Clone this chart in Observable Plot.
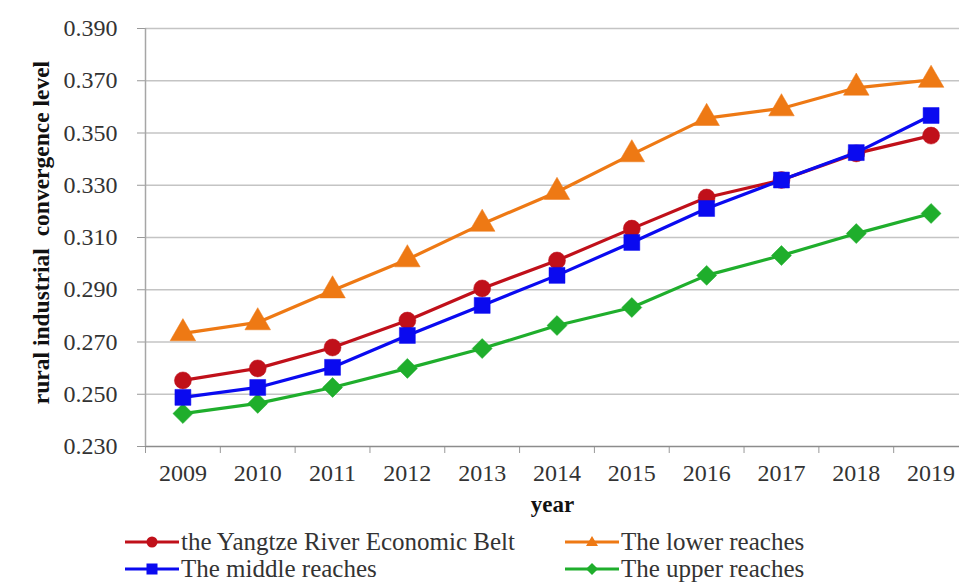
<!DOCTYPE html>
<html>
<head>
<meta charset="utf-8">
<script src="https://cdn.jsdelivr.net/npm/d3@7"></script>
<script src="https://cdn.jsdelivr.net/npm/@observablehq/plot@0.6"></script>
<style>
  body { margin: 0; background: #fff; }
  #wrap { position: relative; width: 959px; height: 587px; font-family: "Liberation Serif", "Times New Roman", serif; }
  #legend { position: absolute; left: 0; top: 525px; width: 959px; height: 62px; }
  .item { position: absolute; display: flex; align-items: center; font-size: 25px; color: #333; height: 28px; white-space: nowrap; }
  .item svg { margin-right: 2px; }
</style>
</head>
<body>
<div id="wrap"><div id="chart"></div><div id="legend"></div></div>
<script>
const years = [2009, 2010, 2011, 2012, 2013, 2014, 2015, 2016, 2017, 2018, 2019];
const belt   = [0.2553, 0.2599, 0.2679, 0.2782, 0.2905, 0.3012, 0.3134, 0.3253, 0.3320, 0.3422, 0.3490];
const lower  = [0.2733, 0.2775, 0.2897, 0.3016, 0.3152, 0.3274, 0.3418, 0.3557, 0.3594, 0.3673, 0.3703];
const middle = [0.2488, 0.2526, 0.2603, 0.2725, 0.2840, 0.2955, 0.3081, 0.3211, 0.3320, 0.3425, 0.3567];
const upper  = [0.2426, 0.2465, 0.2526, 0.2599, 0.2675, 0.2763, 0.2832, 0.2955, 0.3031, 0.3115, 0.3192];
const yTicks = [0.230, 0.250, 0.270, 0.290, 0.310, 0.330, 0.350, 0.370, 0.390];
const xBounds = [2008.5, 2009.5, 2010.5, 2011.5, 2012.5, 2013.5, 2014.5, 2015.5, 2016.5, 2017.5, 2018.5, 2019.5];

const seriesDefs = [
  {name: "the Yangtze River Economic Belt", values: belt, color: "#c0101a", symbol: "circle", r: 8.5},
  {name: "The lower reaches", values: lower, color: "#ee7914", symbol: "triangle", r: 9.5},
  {name: "The middle reaches", values: middle, color: "#0a0af0", symbol: "square", r: 9},
  {name: "The upper reaches", values: upper, color: "#1fae2c", symbol: "diamond2", r: 9}
];
const drawOrder = [1, 3, 0, 2];
const rows = [];
for (const s of seriesDefs) years.forEach((yr, i) => rows.push({series: s.name, year: yr, value: s.values[i]}));

const marks = [
  Plot.ruleY(yTicks.slice(1), {y: d => d, stroke: "#c4c4c4", strokeWidth: 1.5}),
  Plot.axisY(yTicks, {tickSize: 8, tickPadding: 20, tickFormat: d3.format(".3f"), stroke: "#999", fontSize: 24, fill: "#333", label: null}),
  Plot.axisX(xBounds, {tickSize: 7, tickFormat: () => "", stroke: "#999", label: null}),
  Plot.axisX(years, {tickSize: 0, tickPadding: 17, tickFormat: d => String(d), fontSize: 24, fill: "#333", label: null}),
  Plot.ruleY([0.230], {stroke: "#8c8c8c", strokeWidth: 1.5}),
  Plot.ruleX([2008.5], {stroke: "#a6a6a6", strokeWidth: 1.5}),
  Plot.text(["rural industrial  convergence level"], {frameAnchor: "left", textAnchor: "middle", dx: -104, dy: -5, rotate: -90, fontSize: 23.5, fontWeight: "bold", fill: "#111"}),
  Plot.text(["year"], {frameAnchor: "bottom", textAnchor: "middle", dy: 65, fontSize: 23, fontWeight: "bold", fill: "#111"})
];
for (const k of drawOrder) {
  const s = seriesDefs[k];
  const data = rows.filter(d => d.series === s.name);
  marks.push(Plot.line(data, {x: "year", y: "value", stroke: s.color, strokeWidth: 3.2}));
  marks.push(Plot.dot(data, {x: "year", y: "value", fill: s.color, stroke: s.color, strokeWidth: 0.5, symbol: s.symbol, r: s.r}));
}

const chart = Plot.plot({
  width: 959,
  height: 525,
  marginTop: 28,
  marginBottom: 79,
  marginLeft: 145,
  marginRight: 0,
  style: {fontFamily: "'Liberation Serif', 'Times New Roman', serif", fontSize: "24px", background: "#fff", overflow: "visible"},
  x: {type: "linear", domain: [2008.5, 2019.5], range: [145, 968]},
  y: {domain: [0.230, 0.390], range: [446, 28]},
  marks
});
document.getElementById("chart").appendChild(chart);

// legend
const legendPos = [
  {k: 0, left: 125, top: 3},
  {k: 1, left: 565, top: 3},
  {k: 2, left: 125, top: 30},
  {k: 3, left: 565, top: 30}
];
const shapes = {
  circle: c => `<circle cx="27" cy="14" r="5.5" fill="${c}"/>`,
  triangle: c => `<path d="M27,8 L33,18 L21,18 Z" fill="${c}"/>`,
  square: c => `<rect x="21.5" y="8.5" width="11" height="11" fill="${c}"/>`,
  diamond2: c => `<path d="M27,8 L33,14 L27,20 L21,14 Z" fill="${c}"/>`
};
const legend = document.getElementById("legend");
for (const p of legendPos) {
  const s = seriesDefs[p.k];
  const div = document.createElement("div");
  div.className = "item";
  div.style.left = p.left + "px";
  div.style.top = p.top + "px";
  div.innerHTML = `<svg width="54" height="28"><line x1="0" x2="54" y1="14" y2="14" stroke="${s.color}" stroke-width="3.2"/>${shapes[s.symbol](s.color)}</svg><span>${s.name}</span>`;
  legend.appendChild(div);
}
</script>
</body>
</html>
